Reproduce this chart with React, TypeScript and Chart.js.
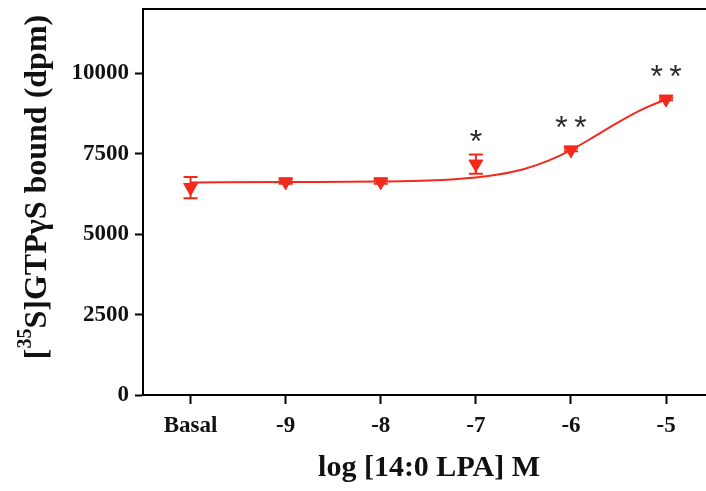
import React, { useEffect, useRef } from "react";
import { Chart, registerables } from "chart.js";

Chart.register(...registerables);

// x positions (log M); Basal drawn at -10
const xTickValues = [-10, -9, -8, -7, -6, -5];
const xTickLabels = ["Basal", "-9", "-8", "-7", "-6", "-5"];
const yTickValues = [0, 2500, 5000, 7500, 10000];

// measured means and SEM ([35S]GTPγS bound, dpm)
const meanValues = [6450, 6630, 6630, 7180, 7620, 9200];
const semValues = [330, 60, 60, 300, 40, 40];
const sigLabels = ["", "", "", "*", "**", "**"];

// fitted curve
const curveX = [-10, -9, -8, -7.5, -7, -6.75, -6.5, -6.25, -6, -5.75, -5.5, -5.25, -5];
const curveY = [6610, 6620, 6635, 6665, 6760, 6860, 7020, 7270, 7615, 8040, 8485, 8880, 9195];

const RED = "#f2291c";
const SERIF = "'Liberation Serif', 'DejaVu Serif', serif";
const CANVAS_W = 715;

export default function App() {
  const ref = useRef<HTMLCanvasElement | null>(null);

  useEffect(() => {
    document.body.style.margin = "0";
    document.body.style.overflow = "hidden";
    const canvas = ref.current;
    if (!canvas) return;

    const overlay = {
      id: "overlay",
      beforeDatasetsDraw(chart: any) {
        const ctx = chart.ctx;
        const xs = chart.scales.x;
        const ys = chart.scales.y;
        ctx.save();
        ctx.strokeStyle = RED;
        ctx.lineWidth = 2;
        for (let i = 0; i < meanValues.length; i++) {
          const px = xs.getPixelForValue(xTickValues[i]);
          const top = ys.getPixelForValue(meanValues[i] + semValues[i]);
          const bot = ys.getPixelForValue(meanValues[i] - semValues[i]);
          ctx.beginPath();
          ctx.moveTo(px, top);
          ctx.lineTo(px, bot);
          ctx.moveTo(px - 7, top);
          ctx.lineTo(px + 7, top);
          ctx.moveTo(px - 7, bot);
          ctx.lineTo(px + 7, bot);
          ctx.stroke();
        }
        ctx.restore();
      },
      afterDraw(chart: any) {
        const ctx = chart.ctx;
        const xs = chart.scales.x;
        const ys = chart.scales.y;
        const area = chart.chartArea;
        ctx.save();
        // top frame line
        ctx.strokeStyle = "#000";
        ctx.lineWidth = 2;
        ctx.beginPath();
        ctx.moveTo(area.left - 1, area.top);
        ctx.lineTo(CANVAS_W, area.top);
        ctx.stroke();
        // extend x axis to the canvas edge
        ctx.beginPath();
        ctx.moveTo(area.right - 1, area.bottom);
        ctx.lineTo(CANVAS_W, area.bottom);
        ctx.stroke();

        // significance stars
        ctx.fillStyle = "#2a2a2a";
        ctx.font = "32px 'Liberation Sans', Arial, sans-serif";
        ctx.textAlign = "center";
        ctx.textBaseline = "middle";
        for (let i = 0; i < sigLabels.length; i++) {
          if (!sigLabels[i]) continue;
          const px = xs.getPixelForValue(xTickValues[i]);
          const py = ys.getPixelForValue(meanValues[i]);
          const txt = sigLabels[i].split("").join("\u2009");
          ctx.fillText(txt, px, py - 21);
        }

        // x title
        ctx.fillStyle = "#111";
        ctx.font = `bold 30px ${SERIF}`;
        ctx.textAlign = "center";
        ctx.textBaseline = "middle";
        ctx.fillText("log [14:0 LPA] M", 429, 468);

        // y title with superscript
        ctx.translate(38, 187);
        ctx.rotate(-Math.PI / 2);
        const big = `bold 32px ${SERIF}`;
        const small = `bold 20px ${SERIF}`;
        const parts = [
          { t: "[", f: big, dy: 0 },
          { t: "35", f: small, dy: -12 },
          { t: "S]GTP\u03B3S bound (dpm)", f: big, dy: 0 },
        ];
        let total = 0;
        for (const p of parts) {
          ctx.font = p.f;
          total += ctx.measureText(p.t).width;
        }
        let cx = -total / 2;
        ctx.textAlign = "left";
        ctx.textBaseline = "middle";
        for (const p of parts) {
          ctx.font = p.f;
          ctx.fillText(p.t, cx, p.dy);
          cx += ctx.measureText(p.t).width;
        }
        ctx.restore();
      },
    };

    const chart = new Chart(canvas, {
      type: "scatter",
      data: {
        datasets: [
          {
            label: "mean",
            data: xTickValues.map((x, i) => ({ x, y: meanValues[i] })),
            showLine: false,
            pointStyle: "triangle",
            rotation: 180,
            pointRadius: 8,
            backgroundColor: RED,
            borderColor: RED,
            borderWidth: 1,
            order: 0,
          },
          {
            label: "fit",
            data: curveX.map((x, i) => ({ x, y: curveY[i] })),
            showLine: true,
            pointRadius: 0,
            borderColor: RED,
            borderWidth: 2,
            cubicInterpolationMode: "monotone",
            order: 1,
          },
        ],
      },
      options: {
        responsive: false,
        animation: false,
        devicePixelRatio: 1,
        layout: { padding: { top: 8, right: 0, left: 0, bottom: 0 } },
        plugins: {
          legend: { display: false },
          tooltip: { enabled: false },
          title: { display: false },
        },
        scales: {
          x: {
            type: "linear",
            min: -10.5,
            max: -4.58,
            afterBuildTicks: (s: any) => {
              s.ticks = xTickValues.map((v) => ({ value: v }));
            },
            afterFit: (s: any) => {
              s.height = 96;
              s.paddingLeft = 0;
              s.paddingRight = 0;
            },
            ticks: {
              autoSkip: false,
              maxRotation: 0,
              padding: 8,
              color: "#111",
              font: { family: SERIF, size: 23, weight: "bold" },
              callback: (v: any) => {
                const i = xTickValues.indexOf(Number(v));
                return i >= 0 ? xTickLabels[i] : "";
              },
            },
            grid: {
              display: true,
              drawOnChartArea: false,
              drawTicks: true,
              tickLength: 9,
              tickWidth: 2,
              color: "#000",
            },
            border: { display: true, color: "#000", width: 2 },
          },
          y: {
            type: "linear",
            min: 0,
            max: 12000,
            afterBuildTicks: (s: any) => {
              s.ticks = yTickValues.map((v) => ({ value: v }));
            },
            afterFit: (s: any) => {
              s.width = 143;
              s.paddingTop = 0;
              s.paddingBottom = 0;
            },
            ticks: {
              autoSkip: false,
              padding: 6,
              color: "#111",
              font: { family: SERIF, size: 23, weight: "bold" },
              callback: (v: any) => String(v),
            },
            grid: {
              display: true,
              drawOnChartArea: false,
              drawTicks: true,
              tickLength: 8,
              tickWidth: 2,
              color: "#000",
            },
            border: { display: true, color: "#000", width: 2 },
          },
        },
      },
      plugins: [overlay],
    } as any);

    return () => chart.destroy();
  }, []);

  return (
    <div style={{ width: 706, height: 491, overflow: "hidden", background: "#fff" }}>
      <canvas
        ref={ref}
        width={CANVAS_W}
        height={491}
        style={{ display: "block", width: CANVAS_W, height: 491 }}
      />
    </div>
  );
}
